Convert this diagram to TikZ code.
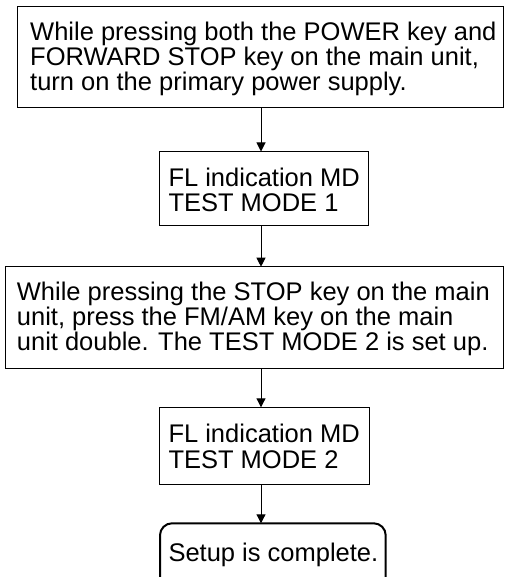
\documentclass[tikz,border=0pt]{standalone}
\usepackage{fontspec}
\setmainfont{Liberation Sans}
\usetikzlibrary{arrows.meta}
\begin{document}
\begin{tikzpicture}[x=1pt,y=-1pt,
  box/.style={draw=black, line width=1pt, anchor=north west, inner sep=0pt, outer sep=0pt},
  endbox/.style={box, line width=2pt, rounded corners=12pt},
  txt/.style={anchor=base west, align=left, inner sep=0pt, font=\fontsize{25.5}{25.2}\selectfont},
  arr/.style={draw=black, line width=1pt, -{Triangle[length=9pt,width=9pt]}}]
\useasboundingbox (0,0) rectangle (504,577);
\clip (0,0) rectangle (504,577);
\node[box, minimum width=485.5pt, minimum height=101pt] (b1) at (17.5,7) {};
\node[box, minimum width=209.5pt, minimum height=74pt] (b2) at (159,151.5) {};
\node[box, minimum width=497.3pt, minimum height=101.6pt] (b3) at (5.7,266.7) {};
\node[box, minimum width=210pt, minimum height=76.7pt] (b4) at (159,407.3) {};
\node[endbox, minimum width=225.7pt, minimum height=90pt] (b5) at (160,523.3) {};
\node[txt] (t1) at (30,90.7) {While pressing both the POWER key and\\FORWARD STOP key on the main unit,\\turn on the primary power supply.};
\node[txt] (t2) at (168.3,211.7) {FL indication MD\\TEST MODE 1};
\node[txt] (t3) at (16.7,350.7) {While pressing the STOP key on the main\\unit, press the FM/AM key on the main\\unit double. The TEST MODE 2 is set up.};
\node[txt] (t4) at (168.3,468) {FL indication MD\\TEST MODE 2};
\node[txt] (t5) at (168.3,561.7) {Setup is complete.};
\coordinate (ax) at (261,0);
\draw[arr] (b1.south -| ax) -- (b2.north -| ax);
\draw[arr] (b2.south -| ax) -- (b3.north -| ax);
\draw[arr] (b3.south -| ax) -- (b4.north -| ax);
\draw[arr] (b4.south -| ax) -- (b5.north -| ax);
\end{tikzpicture}
\end{document}
